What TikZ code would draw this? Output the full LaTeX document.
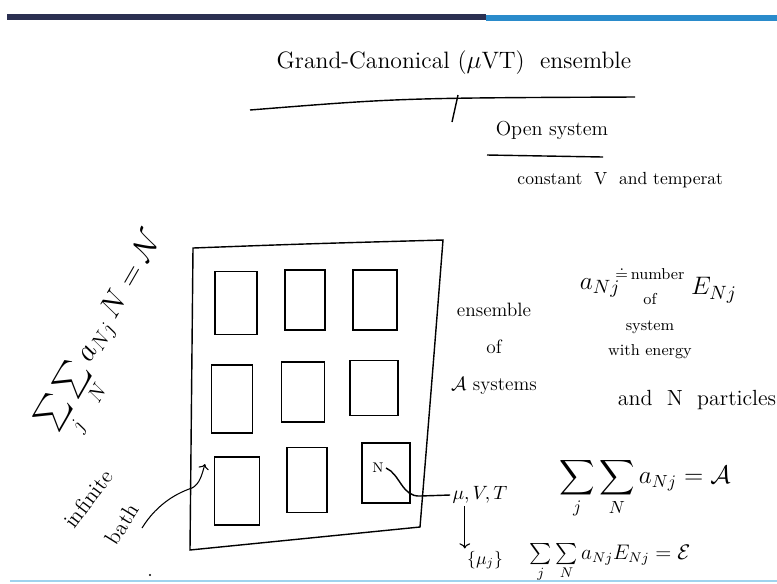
\documentclass[tikz,border=0pt]{standalone}
\usepackage{amsmath, amssymb}
\usepackage{xcolor}
\usepackage{tikz}
\usetikzlibrary{arrows.meta, positioning, calc}
\definecolor{barnavy}{HTML}{2B3052}
\definecolor{barblue}{HTML}{2A8BCB}
\definecolor{linecyan}{HTML}{9ED3EE}

\begin{document}
\begin{tikzpicture}[x=0.02cm, y=-0.02cm, line width=0.8pt,
    box/.style={draw, inner sep=0pt},
    hand/.style={inner sep=1pt}]
    \useasboundingbox[fill=white] (0,0) rectangle (777,583);
    % slide bars
    \fill[barnavy] (7,14) rectangle (486,20);
    \fill[barblue] (486,15) rectangle (777,21);
    \draw[linecyan, line width=1.2pt] (10,581) -- (777,581);

    % title and heading
    \node[hand, font=\fontsize{13.5}{15}\selectfont] (title) at (454,63) {Grand-Canonical ($\mu$VT) \ ensemble};
    \draw (250,110) .. controls (400,98) .. (635,97);
    \draw (458,95) -- (452,122);
    \node[hand, font=\fontsize{11.5}{13}\selectfont] (opensys) at (552,130) {Open system};
    \draw (487,155) -- (603,157);
    \node[hand, anchor=west, font=\fontsize{10}{12}\selectfont] (constvt) at (515,180) {constant \ V \ and temperat};

    % ensemble frame
    \draw (193,248) .. controls (300,244) .. (443,240) .. controls (432,380) .. (420,527)
        -- (190,550) -- cycle;
    \foreach \nm/\cx/\cy/\w/\h in {sq11/236/303/42/63, sq12/305/300/40/60, sq13/375/300/44/60,
        sq21/232/399/41/68, sq22/303/392/43/60, sq23/374/388/48/55,
        sq31/237/491/45/68, sq32/307/480/40/65, sq33/386/473/48/60}
        \node[box, minimum width=\w*0.02cm, minimum height=\h*0.02cm] (\nm) at (\cx,\cy) {};
    \node[hand, font=\fontsize{8}{9}\selectfont] (nlab) at (378,468) {N};

    % labels right of the frame
    \node[hand, align=center, font=\fontsize{11}{21}\selectfont] (ensem) at (494,349)
        {ensemble\\of\\$\mathcal{A}$ systems};
    \node[hand, font=\fontsize{11}{12}\selectfont] (mvt) at (480,495) {$\mu, V, T$};
    \node[hand, font=\fontsize{10}{11}\selectfont] (muj) at (485,560) {$\{\mu_j\}$};
    \draw (nlab.east) .. controls (400,474) and (402,497) .. (420,496) -- (mvt.west);
    \draw[->, line width=0.6pt] (mvt.south -| muj.north west) -- (muj.north west);

    % definition of a_Nj
    \node[hand, font=\fontsize{15}{16}\selectfont] (anj) at (600,288) {$a_{Nj}$};
    \node[hand, align=center, font=\fontsize{9}{14.5}\selectfont] (anjdef) at (650,313)
        {$\doteq$\,number\\of\\system\\with energy};
    \node[hand, font=\fontsize{15}{16}\selectfont] (enj) at (714,290) {$E_{Nj}$};
    \node[hand, font=\fontsize{12.5}{14}\selectfont] (npart) at (697,400) {and \ N \ particles};

    % constraints
    \node[hand, font=\fontsize{14}{16}\selectfont] (sumA) at (645,488)
        {$\displaystyle\sum_j\sum_N a_{Nj} = \mathcal{A}$};
    \node[hand, font=\fontsize{12}{14}\selectfont] (sumE) at (610,563)
        {$\sum\limits_j\sum\limits_N a_{Nj}E_{Nj} = \mathcal{E}$};
    \node[hand, rotate=60, font=\fontsize{18}{20}\selectfont] (sumN) at (112,337)
        {$\sum\limits_j\sum\limits_N a_{Nj}\,N = \mathcal{N}$};

    % bath
    \node[hand, rotate=53, font=\fontsize{12.5}{14}\selectfont] (bathinf) at (88,499) {infinite};
    \node[hand, rotate=58, font=\fontsize{12.5}{14}\selectfont] (bathlab) at (122,524) {bath};
    \coordinate (bathtail) at (142,528);
    \coordinate (bathtip) at (205,464);
    \draw[->, line width=0.6pt] (bathtail) .. controls (158,502) and (180,492) .. (192,488)
        .. controls (200,484) and (202,474) .. (bathtip);
    \fill (150,575) circle (1.2);
\end{tikzpicture}
\end{document}
